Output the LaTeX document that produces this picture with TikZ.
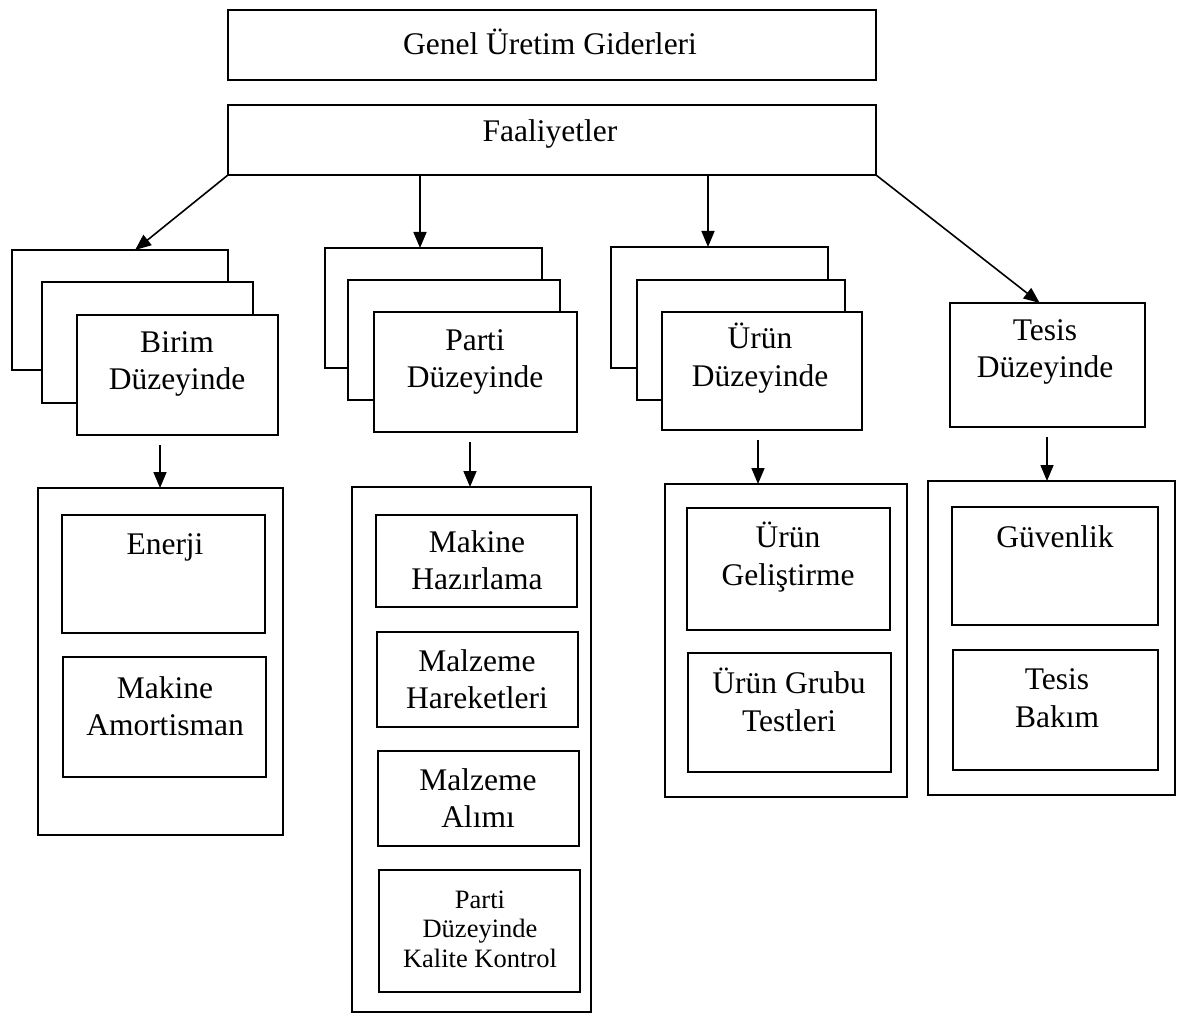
\documentclass[tikz,border=0pt]{standalone}
\usepackage{fontspec}
\setmainfont{Liberation Serif}
\usetikzlibrary{arrows.meta,calc}
% rectangle given by its corners (x1,y1) (x2,y2), y measured downwards
\newcommand\cornerbox[5]{%
  \node[box, minimum width={#4-#2}, minimum height={#5-#3}] (#1) at ({(#2+#4)/2},{(#3+#5)/2}) {};}
\begin{document}
\begin{tikzpicture}[x=1pt,y=-1pt,
  box/.style={draw, rectangle, line width=1.8pt, fill=white, inner sep=0pt, outer sep=0pt},
  lbl/.style={font=\fontsize{31.5}{37.5}\selectfont, align=center, inner sep=0pt},
  smalllbl/.style={font=\fontsize{26.5}{29.5}\selectfont, align=center, inner sep=0pt},
  arr/.style={line width=1.6pt, -{Triangle[length=16pt,width=13pt]}}]
\useasboundingbox (0,0) rectangle (1181,1016);

% top level
\cornerbox{genel}{228}{10}{876}{80}
\node[lbl] (tgenel) at (550,42) {Genel Üretim Giderleri};
\cornerbox{faal}{228}{105}{876}{175}
\node[lbl] (tfaal) at (550,134) {Faaliyetler};

% unit level stack
\cornerbox{birimA}{12}{250}{228}{370}
\cornerbox{birimB}{42}{282}{253}{403}
\cornerbox{birimC}{77}{315}{278}{435}
\node[lbl] (tbirim) at (177,364) {Birim\\Düzeyinde};

% batch level stack
\cornerbox{partiA}{325}{248}{542}{368}
\cornerbox{partiB}{348}{280}{560}{400}
\cornerbox{partiC}{374}{312}{577}{432}
\node[lbl] (tparti) at (475,362) {Parti\\Düzeyinde};

% product level stack
\cornerbox{urunA}{611}{247}{828}{368}
\cornerbox{urunB}{637}{280}{845}{400}
\cornerbox{urunC}{662}{312}{862}{430}
\node[lbl] (turun) at (760,358) {Ürün\\Düzeyinde};

% facility level
\cornerbox{tesis}{950}{303}{1145}{427}
\node[lbl] (ttesis) at (1045,352) {Tesis\\Düzeyinde};

% unit level activities
\cornerbox{gBirim}{38}{488}{283}{835}
\cornerbox{enerji}{62}{515}{265}{633}
\node[lbl] (tenerji) at (165,547) {Enerji};
\cornerbox{amort}{63}{657}{266}{777}
\node[lbl] (tamort) at (165,706) {Makine\\Amortisman};

% batch level activities
\cornerbox{gParti}{352}{487}{591}{1012}
\cornerbox{hazir}{376}{515}{577}{607}
\node[lbl] (thazir) at (477,560) {Makine\\Hazırlama};
\cornerbox{hareket}{377}{632}{578}{727}
\node[lbl] (thareket) at (477,679) {Malzeme\\Hareketleri};
\cornerbox{alim}{378}{751}{579}{846}
\node[lbl] (talim) at (478,798) {Malzeme\\Alımı};
\cornerbox{kalite}{379}{870}{580}{992}
\node[smalllbl] (tkalite) at (480,929) {Parti\\Düzeyinde\\Kalite Kontrol};

% product level activities
\cornerbox{gUrun}{665}{484}{907}{797}
\cornerbox{gelis}{687}{508}{890}{630}
\node[lbl] (tgelis) at (788,557) {Ürün\\Geliştirme};
\cornerbox{test}{688}{653}{891}{772}
\node[lbl] (ttest) at (789,700) {Ürün Grubu\\Testleri};

% facility level activities
\cornerbox{gTesis}{928}{481}{1175}{795}
\cornerbox{guven}{952}{507}{1158}{625}
\node[lbl] (tguven) at (1055,537) {Güvenlik};
\cornerbox{bakim}{953}{650}{1158}{770}
\node[lbl] (tbakim) at (1057,698) {Tesis\\Bakım};

% connectors from the activities box
\coordinate (xParti) at (420,0);
\coordinate (xUrun) at (708,0);
\draw[arr] (faal.south west) -- ($(birimA.north west)!0.57!(birimA.north east)$);
\draw[arr] (faal.south -| xParti) -- (partiA.north -| xParti);
\draw[arr] (faal.south -| xUrun) -- (urunA.north -| xUrun);
\draw[arr] (faal.south east) -- ($(tesis.north west)!0.46!(tesis.north east)$);

% connectors down to the activity groups
\coordinate (xB) at (160,0);
\coordinate (xP) at (470,0);
\coordinate (xU) at (758,0);
\coordinate (xT) at (1047,0);
\draw[arr, shorten <=10pt] (birimC.south -| xB) -- (gBirim.north -| xB);
\draw[arr, shorten <=10pt] (partiC.south -| xP) -- (gParti.north -| xP);
\draw[arr, shorten <=10pt] (urunC.south -| xU) -- (gUrun.north -| xU);
\draw[arr, shorten <=10pt] (tesis.south -| xT) -- (gTesis.north -| xT);
\end{tikzpicture}
\end{document}
